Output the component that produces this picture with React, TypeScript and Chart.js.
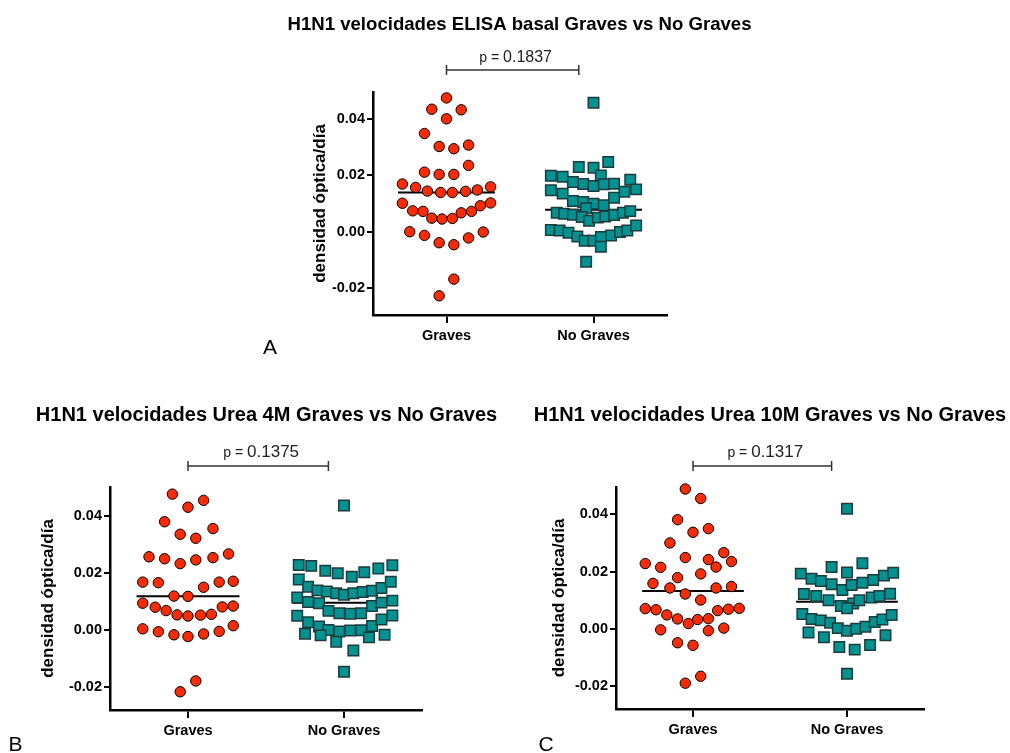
import React, { useEffect, useRef } from 'react';
import { Chart, registerables } from 'chart.js';

Chart.register(...registerables);

const FONT = "'Liberation Sans', Arial, sans-serif";

const categories = ['Graves', 'No Graves'];
const yTickValues = [-0.02, 0.0, 0.02, 0.04];
const yAxisTitle = 'densidad óptica/día';

const titleA = 'H1N1 velocidades ELISA basal Graves vs No Graves';
const titleB = 'H1N1 velocidades Urea 4M Graves vs No Graves';
const titleC = 'H1N1 velocidades Urea 10M Graves vs No Graves';
const pValueA = '0.1837';
const pValueB = '0.1375';
const pValueC = '0.1317';

// Panel A – ELISA basal
const aGravesY = [0.0474, 0.0434, 0.0432, 0.0400, 0.0348, 0.0302, 0.0294, 0.0307, 0.0235, 0.0211, 0.0203, 0.0203, 0.0169, 0.0157, 0.0144, 0.0139, 0.0139, 0.0143, 0.0148, 0.0159, 0.0101, 0.0074, 0.0072, 0.0048, 0.0045, 0.0047, 0.0067, 0.0072, 0.0092, 0.0102, 0.0000, -0.0013, -0.0039, -0.0046, -0.0022, -0.0001, -0.0168, -0.0227];
const aGravesJitter = [0.00, -0.10, 0.10, 0.00, -0.15, -0.05, 0.05, 0.15, 0.15, -0.15, -0.05, 0.05, -0.30, -0.21, -0.13, -0.04, 0.04, 0.13, 0.21, 0.30, -0.30, -0.23, -0.16, -0.10, -0.03, 0.04, 0.10, 0.17, 0.23, 0.30, -0.25, -0.15, -0.05, 0.05, 0.15, 0.25, 0.05, -0.05];
const aNoGravesY = [0.0457, 0.0229, 0.0227, 0.0247, 0.0198, 0.0195, 0.0176, 0.0169, 0.0162, 0.0199, 0.0168, 0.0170, 0.0184, 0.0147, 0.0135, 0.0142, 0.0150, 0.0109, 0.0105, 0.0099, 0.0094, 0.0120, 0.0083, 0.0067, 0.0064, 0.0060, 0.0052, 0.0039, 0.0050, 0.0054, 0.0059, 0.0067, 0.0073, 0.0006, 0.0004, -0.0004, -0.0017, -0.0032, -0.0032, -0.0019, -0.0053, -0.0013, -0.0001, 0.0004, 0.0022, -0.0106];
const aNoGravesJitter = [0.00, -0.10, 0.00, 0.10, -0.29, -0.21, -0.14, -0.07, 0.00, 0.05, 0.07, 0.14, 0.25, -0.29, -0.21, 0.21, 0.29, -0.14, -0.07, 0.00, 0.07, 0.14, -0.05, -0.25, -0.20, -0.14, -0.08, -0.03, 0.03, 0.08, 0.14, 0.20, 0.25, -0.29, -0.23, -0.17, -0.11, -0.06, 0.00, 0.05, 0.05, 0.12, 0.18, 0.23, 0.29, -0.05];

// Panel B – Urea 4M
const bGravesY = [0.0478, 0.0432, 0.0456, 0.0381, 0.0337, 0.0323, 0.0357, 0.0258, 0.0251, 0.0234, 0.0247, 0.0255, 0.0268, 0.0169, 0.0167, 0.0151, 0.0169, 0.0172, 0.0120, 0.0119, 0.0095, 0.0081, 0.0069, 0.0054, 0.0050, 0.0053, 0.0056, 0.0082, 0.0085, 0.0005, -0.0005, -0.0016, -0.0022, -0.0013, -0.0004, 0.0016, -0.0178, -0.0216];
const bGravesJitter = [-0.10, 0.00, 0.10, -0.15, -0.05, 0.05, 0.16, -0.25, -0.15, -0.05, 0.05, 0.16, 0.26, -0.29, -0.19, 0.10, 0.20, 0.29, -0.09, 0.00, -0.29, -0.21, -0.14, -0.07, 0.00, 0.08, 0.15, 0.22, 0.29, -0.29, -0.19, -0.09, 0.00, 0.10, 0.20, 0.29, 0.05, -0.05];
const bNoGravesY = [0.0438, 0.0229, 0.0226, 0.0209, 0.0200, 0.0188, 0.0204, 0.0217, 0.0228, 0.0178, 0.0153, 0.0140, 0.0136, 0.0130, 0.0125, 0.0130, 0.0134, 0.0139, 0.0148, 0.0170, 0.0115, 0.0099, 0.0095, 0.0068, 0.0060, 0.0058, 0.0060, 0.0085, 0.0097, 0.0104, 0.0051, 0.0028, 0.0013, 0.0001, -0.0004, -0.0001, 0.0000, 0.0015, 0.0038, 0.0052, -0.0012, -0.0018, -0.0040, -0.0025, -0.0016, -0.0071, -0.0146];
const bNoGravesJitter = [0.00, -0.29, -0.21, -0.12, -0.04, 0.05, 0.13, 0.22, 0.31, -0.29, -0.23, -0.17, -0.11, -0.05, 0.00, 0.06, 0.12, 0.18, 0.24, 0.30, -0.30, -0.23, -0.16, -0.10, -0.03, 0.04, 0.11, 0.18, 0.24, 0.31, -0.30, -0.23, -0.16, -0.10, -0.03, 0.04, 0.11, 0.18, 0.24, 0.31, -0.25, -0.15, -0.05, 0.16, 0.26, 0.06, 0.00];

// Panel C – Urea 10M
const cGravesY = [0.0488, 0.0455, 0.0381, 0.0337, 0.0350, 0.0300, 0.0228, 0.0215, 0.0249, 0.0242, 0.0216, 0.0266, 0.0235, 0.0179, 0.0192, 0.0159, 0.0143, 0.0143, 0.0148, 0.0122, 0.0101, 0.0071, 0.0067, 0.0049, 0.0035, 0.0019, 0.0033, 0.0036, 0.0064, 0.0069, 0.0072, -0.0003, -0.0006, 0.0003, -0.0048, -0.0057, -0.0165, -0.0189];
const cGravesJitter = [-0.05, 0.05, -0.10, 0.00, 0.10, -0.15, -0.31, -0.21, -0.05, 0.10, 0.15, 0.20, 0.25, -0.10, 0.05, -0.26, -0.15, 0.15, 0.25, -0.05, 0.05, -0.31, -0.24, -0.17, -0.10, -0.03, 0.03, 0.10, 0.16, 0.23, 0.30, -0.21, 0.10, 0.20, -0.10, 0.00, 0.05, -0.05];
const cNoGravesY = [0.0419, 0.0216, 0.0197, 0.0229, 0.0193, 0.0175, 0.0167, 0.0156, 0.0136, 0.0153, 0.0161, 0.0171, 0.0186, 0.0196, 0.0122, 0.0115, 0.0100, 0.0080, 0.0089, 0.0100, 0.0110, 0.0115, 0.0123, 0.0072, 0.0052, 0.0035, 0.0030, 0.0022, 0.0003, -0.0006, 0.0001, 0.0008, 0.0024, 0.0033, 0.0049, -0.0012, -0.0029, -0.0063, -0.0072, -0.0056, -0.0022, -0.0156];
const cNoGravesJitter = [0.00, -0.10, 0.00, 0.10, -0.30, -0.23, -0.17, -0.10, -0.03, 0.03, 0.10, 0.17, 0.24, 0.30, -0.28, -0.20, -0.12, -0.04, 0.04, 0.08, 0.16, 0.21, 0.28, 0.00, -0.29, -0.23, -0.17, -0.11, -0.06, 0.00, 0.06, 0.12, 0.18, 0.23, 0.29, -0.25, -0.15, -0.05, 0.05, 0.15, 0.25, 0.00];

const RED = '#ff2a00';
const TEAL = '#009393';

const median = (arr: number[]) => {
  const s = [...arr].sort((a, b) => a - b);
  const n = s.length;
  return n % 2 ? s[(n - 1) / 2] : (s[n / 2 - 1] + s[n / 2]) / 2;
};

type Panel = {
  title: string; titleX: number; titleY: number; titleSize: number;
  area: { l: number; r: number; t: number; b: number };
  yMin: number; yMax: number; yTitleX: number;
  pValue: string; barGap: number; pGap: number; pSmall: number; pBig: number;
  letter: string; letterX: number; letterY: number;
  graves: number[]; gravesJ: number[]; noGraves: number[]; noGravesJ: number[];
};

const panels: Panel[] = [
  {
    title: titleA, titleX: 519.5, titleY: 29.5, titleSize: 18.6,
    area: { l: 373, r: 667, t: 92, b: 315 }, yMin: -0.0295, yMax: 0.0495, yTitleX: 320,
    pValue: pValueA, barGap: 22, pGap: 8.5, pSmall: 14, pBig: 16,
    letter: 'A', letterX: 270, letterY: 354,
    graves: aGravesY, gravesJ: aGravesJitter, noGraves: aNoGravesY, noGravesJ: aNoGravesJitter,
  },
  {
    title: titleB, titleX: 266.5, titleY: 421, titleSize: 20,
    area: { l: 110, r: 422, t: 487, b: 710 }, yMin: -0.028, yMax: 0.0503, yTitleX: 48,
    pValue: pValueB, barGap: 21, pGap: 9, pSmall: 14, pBig: 17,
    letter: 'B', letterX: 15.5, letterY: 751,
    graves: bGravesY, gravesJ: bGravesJitter, noGraves: bNoGravesY, noGravesJ: bNoGravesJitter,
  },
  {
    title: titleC, titleX: 770, titleY: 421, titleSize: 20,
    area: { l: 616, r: 924, t: 487, b: 709 }, yMin: -0.0279, yMax: 0.0495, yTitleX: 559,
    pValue: pValueC, barGap: 21, pGap: 9, pSmall: 14, pBig: 17,
    letter: 'C', letterX: 546, letterY: 751,
    graves: cGravesY, gravesJ: cGravesJitter, noGraves: cNoGravesY, noGravesJ: cNoGravesJitter,
  },
];

const W = 1010;
const H = 753;
const X_AXIS_H = 40;
const Y_TITLE_SIZE = 17;
const HALF_LINE = 0.33;

const decorPlugin = {
  id: 'decor',
  afterDraw(chart: any, _args: any, opts: any) {
    const { ctx } = chart;
    const xs = chart.scales.x;
    ctx.save();
    ctx.fillStyle = '#000';
    ctx.textBaseline = 'alphabetic';
    ctx.textAlign = 'center';
    ctx.font = `bold ${opts.titleSize}px ${FONT}`;
    ctx.fillText(opts.title, opts.titleX, opts.titleY);

    const x0 = xs.getPixelForValue(0);
    const x1 = xs.getPixelForValue(0.9);
    const by = chart.chartArea.top - opts.barGap;
    ctx.strokeStyle = '#333';
    ctx.lineWidth = 1.5;
    ctx.beginPath();
    ctx.moveTo(x0, by); ctx.lineTo(x1, by);
    ctx.moveTo(x0, by - 5); ctx.lineTo(x0, by + 5);
    ctx.moveTo(x1, by - 5); ctx.lineTo(x1, by + 5);
    ctx.stroke();

    const pLabel = 'p = ';
    ctx.font = `${opts.pSmall}px ${FONT}`;
    const w1 = ctx.measureText(pLabel).width;
    ctx.font = `${opts.pBig}px ${FONT}`;
    const w2 = ctx.measureText(opts.pValue).width;
    const start = (x0 + x1) / 2 + 3 - (w1 + w2) / 2;
    ctx.textAlign = 'left';
    ctx.fillStyle = '#222';
    ctx.font = `${opts.pSmall}px ${FONT}`;
    ctx.fillText(pLabel, start, by - opts.pGap);
    ctx.font = `${opts.pBig}px ${FONT}`;
    ctx.fillText(opts.pValue, start + w1, by - opts.pGap);

    ctx.fillStyle = '#000';
    ctx.textAlign = 'center';
    ctx.font = `21px ${FONT}`;
    ctx.fillText(opts.letter, opts.letterX, opts.letterY);
    ctx.restore();
  },
};

function PanelChart({ p }: { p: Panel }) {
  const ref = useRef<HTMLCanvasElement | null>(null);
  useEffect(() => {
    if (!ref.current) return;
    const yTitleLH = Y_TITLE_SIZE * 1.2;
    const yScaleLeft = p.yTitleX - yTitleLH / 2;
    const yWidth = p.area.l - yScaleLeft;
    const gMed = median(p.graves);
    const nMed = median(p.noGraves);
    const chart = new Chart(ref.current, {
      type: 'scatter',
      data: {
        datasets: [
          {
            type: 'scatter',
            data: p.graves.map((v, i) => ({ x: 0 + p.gravesJ[i], y: v })),
            pointStyle: 'circle',
            pointRadius: 5.2,
            backgroundColor: RED,
            borderColor: '#000',
            borderWidth: 1,
            order: 0,
            clip: false,
          } as any,
          {
            type: 'scatter',
            data: p.noGraves.map((v, i) => ({ x: 1 + p.noGravesJ[i], y: v })),
            pointStyle: 'rect',
            pointRadius: 7.4,
            backgroundColor: TEAL,
            borderColor: '#1d3b3b',
            borderWidth: 1.5,
            order: 0,
            clip: false,
          } as any,
          {
            type: 'line',
            data: [{ x: 0 - HALF_LINE, y: gMed }, { x: 0 + HALF_LINE, y: gMed }],
            borderColor: '#000',
            borderWidth: 2,
            pointRadius: 0,
            order: 1,
          } as any,
          {
            type: 'line',
            data: [{ x: 1 - HALF_LINE, y: nMed }, { x: 1 + HALF_LINE, y: nMed }],
            borderColor: '#000',
            borderWidth: 2,
            pointRadius: 0,
            order: 1,
          } as any,
        ],
      },
      options: {
        animation: false,
        responsive: false,
        events: [],
        layout: {
          padding: {
            left: yScaleLeft,
            right: W - p.area.r,
            top: p.area.t,
            bottom: H - p.area.b - X_AXIS_H,
          },
        },
        plugins: {
          legend: { display: false },
          tooltip: { enabled: false },
          title: { display: false },
          decor: {
            title: p.title, titleX: p.titleX, titleY: p.titleY, titleSize: p.titleSize,
            pValue: p.pValue, barGap: p.barGap, pGap: p.pGap, pSmall: p.pSmall, pBig: p.pBig,
            letter: p.letter, letterX: p.letterX, letterY: p.letterY,
          },
        } as any,
        scales: {
          x: {
            type: 'linear',
            min: -0.5,
            max: 1.5,
            afterBuildTicks: (scale: any) => {
              scale.ticks = categories.map((_, i) => ({ value: i }));
            },
            afterFit: (scale: any) => { scale.height = X_AXIS_H; },
            ticks: {
              callback: (v: any) => categories[Number(v)] ?? '',
              color: '#000',
              padding: 4,
              maxRotation: 0,
              autoSkip: false,
              font: { family: FONT, size: 14.5, weight: 'bold' },
            },
            grid: { display: true, drawOnChartArea: false, drawTicks: true, tickLength: 8, color: '#000', lineWidth: 2 },
            border: { display: true, color: '#000', width: 2.5 },
          },
          y: {
            type: 'linear',
            min: p.yMin,
            max: p.yMax,
            afterBuildTicks: (scale: any) => {
              scale.ticks = yTickValues.map((v) => ({ value: v }));
            },
            afterFit: (scale: any) => { scale.width = yWidth; },
            ticks: {
              callback: (v: any) => Number(v).toFixed(2),
              color: '#000',
              padding: 2,
              autoSkip: false,
              font: { family: FONT, size: 14.5, weight: 'bold' },
            },
            grid: { display: true, drawOnChartArea: false, drawTicks: true, tickLength: 6, color: '#000', lineWidth: 2 },
            border: { display: true, color: '#000', width: 2.5 },
            title: {
              display: true,
              text: yAxisTitle,
              color: '#000',
              padding: 0,
              font: { family: FONT, size: Y_TITLE_SIZE, weight: 'bold' },
            },
          },
        },
      },
      plugins: [decorPlugin],
    } as any);
    return () => chart.destroy();
  }, [p]);
  return (
    <canvas
      ref={ref}
      width={W}
      height={H}
      style={{ position: 'absolute', left: 0, top: 0, width: W, height: H }}
    />
  );
}

export default function App() {
  return (
    <div style={{ position: 'absolute', left: 0, top: 0, width: W, height: H, background: '#fff', overflow: 'hidden' }}>
      {panels.map((p, i) => (
        <PanelChart key={i} p={p} />
      ))}
    </div>
  );
}
